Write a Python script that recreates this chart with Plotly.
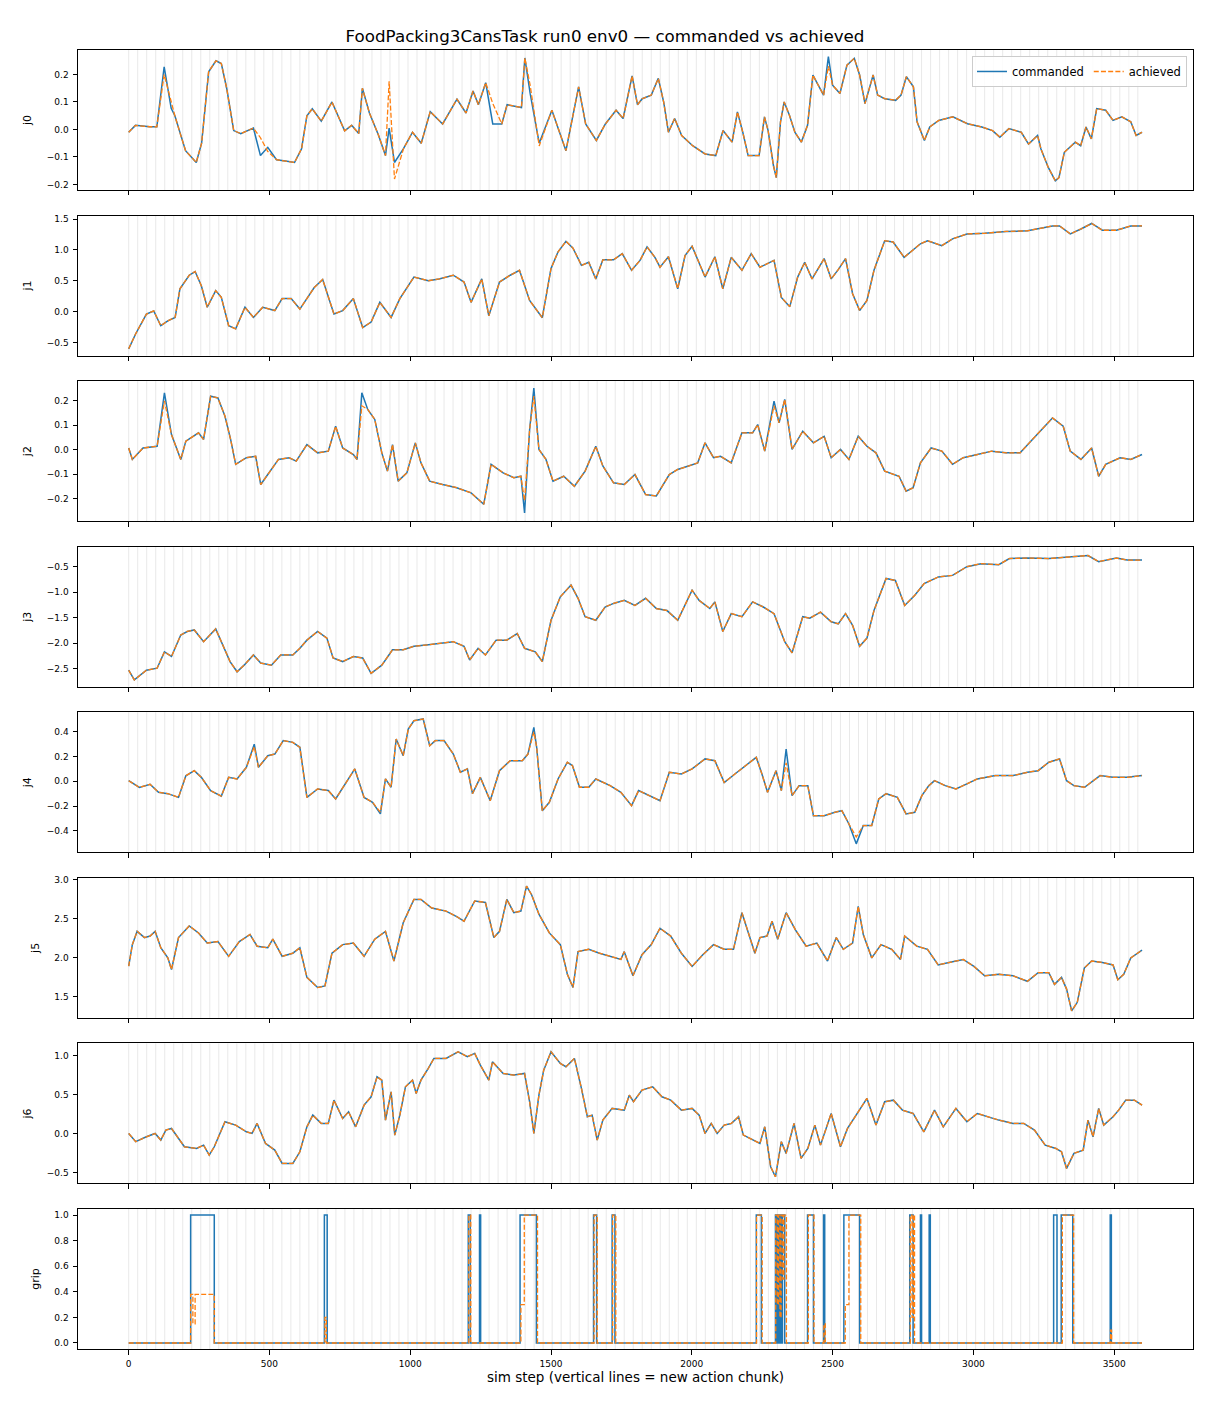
import plotly.graph_objects as go
from plotly.subplots import make_subplots

# ---- data (sim step, joint value) ----
j0_steps = [0, 24, 75, 100, 126, 151, 164, 183, 202, 240, 259, 284, 310, 329, 348, 373, 398, 443, 468, 494,
            525, 557, 589, 614, 633, 652, 684, 722, 767, 792, 817, 830, 855, 887, 912, 925, 944, 976, 1008, 1039,
            1071, 1115, 1166, 1198, 1223, 1242, 1268, 1293, 1325, 1344, 1395, 1407, 1426, 1458, 1503, 1553, 1598, 1623, 1661, 1693,
            1731, 1756, 1788, 1807, 1824, 1856, 1881, 1900, 1917, 1939, 1964, 2003, 2047, 2085, 2111, 2143, 2162, 2181, 2200, 2239,
            2258, 2271, 2290, 2300, 2315, 2328, 2347, 2366, 2389, 2411, 2430, 2449, 2468, 2485, 2500, 2526, 2551, 2577, 2596, 2615,
            2644, 2660, 2685, 2724, 2743, 2762, 2787, 2800, 2826, 2845, 2877, 2927, 2979, 3030, 3068, 3094, 3126, 3170, 3196, 3228,
            3240, 3266, 3291, 3304, 3323, 3362, 3381, 3400, 3419, 3438, 3470, 3496, 3527, 3559, 3578, 3599]
j0_cmd = [-0.01, 0.015, 0.01, 0.01, 0.228, 0.077, 0.05, -0.015, -0.077, -0.12,
          -0.05, 0.21, 0.25, 0.24, 0.15, -0.004, -0.015, 0.005, -0.095, -0.065,
          -0.11, -0.115, -0.12, -0.07, 0.05, 0.075, 0.03, 0.1, -0.005, 0.015,
          -0.015, 0.15, 0.06, -0.02, -0.095, 0.005, -0.12, -0.07, -0.01, -0.05,
          0.065, 0.02, 0.11, 0.06, 0.14, 0.09, 0.17, 0.02, 0.02, 0.09,
          0.08, 0.26, 0.13, -0.05, 0.07, -0.077, 0.155, 0.02, -0.04, 0.02,
          0.07, 0.04, 0.195, 0.09, 0.112, 0.125, 0.186, 0.10, -0.01, 0.04,
          -0.022, -0.059, -0.089, -0.095, -0.004, -0.046, 0.064, -0.01, -0.095, -0.095,
          0.046, -0.004, -0.132, -0.175, 0.028, 0.10, 0.051, -0.01, -0.046, 0.015,
          0.198, 0.161, 0.125, 0.265, 0.161, 0.131, 0.234, 0.259, 0.198, 0.094,
          0.198, 0.125, 0.112, 0.106, 0.125, 0.192, 0.155, 0.028, -0.04, 0.009,
          0.033, 0.046, 0.021, 0.009, -0.004, -0.028, 0.003, -0.01, -0.053, -0.022,
          -0.071, -0.138, -0.187, -0.175, -0.083, -0.046, -0.059, 0.009, -0.034, 0.076,
          0.07, 0.033, 0.046, 0.028, -0.022, -0.01]
j0_ach = [-0.01, 0.015, 0.01, 0.01, 0.2, 0.1, 0.05, -0.015, -0.077, -0.12,
          -0.05, 0.21, 0.25, 0.24, 0.15, -0.004, -0.015, 0.005, -0.03, -0.08,
          -0.11, -0.115, -0.12, -0.07, 0.05, 0.075, 0.03, 0.1, -0.005, 0.015,
          -0.015, 0.15, 0.06, -0.02, -0.095, 0.175, -0.18, -0.07, -0.01, -0.05,
          0.065, 0.02, 0.11, 0.06, 0.14, 0.09, 0.17, 0.095, 0.02, 0.09,
          0.08, 0.26, 0.16, -0.06, 0.07, -0.077, 0.155, 0.02, -0.04, 0.02,
          0.07, 0.04, 0.195, 0.09, 0.112, 0.125, 0.186, 0.10, -0.01, 0.04,
          -0.022, -0.059, -0.089, -0.095, -0.004, -0.046, 0.064, -0.01, -0.095, -0.095,
          0.046, -0.004, -0.132, -0.175, 0.028, 0.10, 0.051, -0.01, -0.046, 0.015,
          0.198, 0.161, 0.125, 0.23, 0.161, 0.131, 0.234, 0.259, 0.198, 0.094,
          0.198, 0.125, 0.112, 0.106, 0.125, 0.192, 0.155, 0.028, -0.04, 0.009,
          0.033, 0.046, 0.021, 0.009, -0.004, -0.028, 0.003, -0.01, -0.053, -0.022,
          -0.071, -0.138, -0.187, -0.175, -0.083, -0.046, -0.059, 0.009, -0.034, 0.076,
          0.07, 0.033, 0.046, 0.028, -0.022, -0.01]

j1_steps = [0, 25, 63, 89, 114, 139, 165, 182, 215, 236, 258, 279, 309, 329, 355, 380, 413, 443, 476, 519,
            545, 577, 608, 659, 689, 729, 760, 798, 831, 861, 892, 932, 963, 993, 1013, 1064, 1102, 1153, 1191, 1216,
            1254, 1279, 1317, 1355, 1388, 1424, 1469, 1500, 1525, 1553, 1578, 1608, 1634, 1659, 1684, 1722, 1753, 1786, 1816, 1841,
            1869, 1887, 1917, 1950, 1976, 2001, 2047, 2082, 2110, 2140, 2178, 2211, 2242, 2292, 2318, 2348, 2376, 2401, 2427, 2470,
            2495, 2520, 2546, 2571, 2596, 2622, 2647, 2685, 2715, 2754, 2781, 2812, 2837, 2888, 2926, 2977, 3040, 3116, 3192, 3281,
            3306, 3344, 3382, 3420, 3458, 3508, 3559, 3599]
j1_cmd = [-0.605, -0.36, -0.04, 0.01, -0.23, -0.15, -0.095, 0.37, 0.59, 0.65,
          0.42, 0.07, 0.34, 0.23, -0.23, -0.28, 0.07, -0.095, 0.07, 0.016,
          0.21, 0.21, 0.04, 0.39, 0.52, -0.04, 0.016, 0.21, -0.26, -0.17,
          0.15, -0.095, 0.21, 0.42, 0.56, 0.50, 0.53, 0.59, 0.48, 0.15,
          0.53, -0.07, 0.48, 0.59, 0.67, 0.18, -0.10, 0.70, 0.97, 1.14,
          1.03, 0.75, 0.80, 0.53, 0.84, 0.84, 0.94, 0.67, 0.83, 1.05,
          0.88, 0.72, 0.89, 0.37, 0.91, 1.06, 0.56, 0.89, 0.37, 0.88,
          0.67, 0.94, 0.72, 0.83, 0.23, 0.08, 0.56, 0.80, 0.53, 0.86,
          0.53, 0.68, 0.86, 0.29, 0.016, 0.18, 0.67, 1.15, 1.13, 0.88,
          0.99, 1.10, 1.15, 1.07, 1.18, 1.26, 1.27, 1.30, 1.31, 1.39,
          1.39, 1.26, 1.34, 1.43, 1.32, 1.32, 1.39, 1.39]
j1_ach = j1_cmd  # achieved overlays commanded within reading precision

j2_steps = [0, 13, 51, 101, 127, 152, 185, 203, 248, 266, 291, 317, 342, 362, 380, 418, 451, 469, 494, 532,
            570, 595, 633, 671, 709, 735, 760, 798, 811, 828, 849, 874, 899, 919, 937, 957, 988, 1018, 1038, 1069,
            1115, 1165, 1216, 1261, 1287, 1330, 1368, 1393, 1406, 1424, 1439, 1457, 1482, 1507, 1545, 1583, 1621, 1659, 1684, 1722,
            1760, 1798, 1836, 1874, 1920, 1950, 1988, 2021, 2047, 2077, 2102, 2140, 2178, 2216, 2234, 2259, 2292, 2310, 2330, 2356,
            2394, 2432, 2470, 2495, 2528, 2558, 2591, 2622, 2654, 2685, 2736, 2761, 2786, 2812, 2850, 2888, 2926, 2964, 3014, 3065,
            3116, 3166, 3204, 3242, 3281, 3319, 3344, 3382, 3420, 3445, 3470, 3521, 3559, 3599]
j2_cmd = [0.007, -0.04, 0.007, 0.014, 0.233, 0.062, -0.04, 0.035, 0.069, 0.042,
          0.219, 0.212, 0.137, 0.042, -0.06, -0.033, -0.027, -0.143, -0.102, -0.04,
          -0.033, -0.047, 0.021, -0.013, -0.006, 0.096, 0.007, -0.02, -0.04, 0.233,
          0.165, 0.124, -0.013, -0.088, 0.021, -0.129, -0.095, 0.028, -0.054, -0.129,
          -0.143, -0.156, -0.177, -0.224, -0.06, -0.095, -0.115, -0.109, -0.259, 0.083,
          0.253, 0.001, -0.04, -0.129, -0.109, -0.15, -0.088, 0.014, -0.067, -0.136,
          -0.143, -0.102, -0.184, -0.19, -0.102, -0.081, -0.067, -0.054, 0.028, -0.033,
          -0.027, -0.054, 0.069, 0.069, 0.103, -0.006, 0.199, 0.110, 0.206, 0.001,
          0.076, 0.028, 0.055, -0.033, 0.001, -0.04, 0.055, 0.014, -0.013, -0.088,
          -0.109, -0.170, -0.156, -0.054, 0.007, -0.006, -0.06, -0.033, -0.02, -0.006,
          -0.013, -0.013, 0.035, 0.083, 0.130, 0.096, -0.006, -0.04, 0.007, -0.109,
          -0.06, -0.033, -0.04, -0.02]
j2_ach = [0.007, -0.04, 0.007, 0.014, 0.2, 0.062, -0.04, 0.035, 0.069, 0.042,
          0.219, 0.212, 0.137, 0.042, -0.06, -0.033, -0.027, -0.143, -0.102, -0.04,
          -0.033, -0.047, 0.021, -0.013, -0.006, 0.096, 0.007, -0.02, -0.04, 0.18,
          0.165, 0.124, -0.013, -0.088, 0.021, -0.129, -0.095, 0.028, -0.054, -0.129,
          -0.143, -0.156, -0.177, -0.224, -0.06, -0.095, -0.115, -0.109, -0.21, 0.083,
          0.22, 0.001, -0.04, -0.129, -0.109, -0.15, -0.088, 0.014, -0.067, -0.136,
          -0.143, -0.102, -0.184, -0.19, -0.102, -0.081, -0.067, -0.054, 0.028, -0.033,
          -0.027, -0.054, 0.069, 0.069, 0.103, -0.006, 0.18, 0.110, 0.206, 0.001,
          0.076, 0.028, 0.055, -0.033, 0.001, -0.04, 0.055, 0.014, -0.013, -0.088,
          -0.109, -0.170, -0.156, -0.054, 0.007, -0.006, -0.06, -0.033, -0.02, -0.006,
          -0.013, -0.013, 0.035, 0.083, 0.130, 0.096, -0.006, -0.04, 0.007, -0.109,
          -0.06, -0.033, -0.04, -0.02]

j3_steps = [0, 20, 63, 101, 127, 152, 185, 208, 233, 266, 309, 329, 360, 385, 410, 443, 469, 507, 540, 583,
            608, 633, 671, 704, 726, 760, 798, 831, 861, 899, 937, 975, 1013, 1064, 1115, 1153, 1191, 1211, 1241, 1267,
            1305, 1343, 1380, 1406, 1444, 1469, 1500, 1533, 1571, 1596, 1621, 1659, 1692, 1722, 1760, 1798, 1836, 1874, 1912, 1950,
            2001, 2026, 2064, 2082, 2110, 2140, 2178, 2216, 2254, 2292, 2330, 2356, 2394, 2419, 2457, 2495, 2520, 2546, 2571, 2596,
            2622, 2647, 2690, 2723, 2756, 2792, 2825, 2876, 2926, 2977, 3027, 3090, 3128, 3192, 3268, 3331, 3407, 3445, 3508, 3546,
            3599]
j3_cmd = [-2.53, -2.72, -2.53, -2.49, -2.17, -2.26, -1.84, -1.77, -1.74, -1.97,
          -1.72, -1.97, -2.36, -2.56, -2.43, -2.23, -2.39, -2.43, -2.23, -2.23,
          -2.10, -1.94, -1.77, -1.90, -2.29, -2.36, -2.26, -2.29, -2.59, -2.43,
          -2.13, -2.13, -2.06, -2.03, -2.00, -1.97, -2.06, -2.33, -2.10, -2.23,
          -1.94, -1.94, -1.81, -2.10, -2.17, -2.36, -1.55, -1.09, -0.86, -1.12,
          -1.48, -1.55, -1.29, -1.22, -1.16, -1.26, -1.12, -1.32, -1.36, -1.55,
          -0.96, -1.16, -1.32, -1.19, -1.77, -1.42, -1.48, -1.19, -1.29, -1.42,
          -1.97, -2.19, -1.48, -1.51, -1.39, -1.58, -1.62, -1.42, -1.65, -2.06,
          -1.90, -1.36, -0.73, -0.77, -1.26, -1.06, -0.83, -0.70, -0.67, -0.50,
          -0.44, -0.46, -0.34, -0.33, -0.34, -0.31, -0.28, -0.40, -0.33, -0.37,
          -0.37]
j3_ach = j3_cmd

j4_steps = [0, 38, 76, 106, 139, 177, 203, 233, 258, 291, 329, 355, 385, 418, 446, 461, 494, 519, 549, 583,
            608, 633, 671, 709, 735, 773, 803, 836, 866, 894, 912, 932, 950, 975, 993, 1013, 1046, 1069, 1089, 1120,
            1153, 1178, 1203, 1221, 1249, 1284, 1317, 1355, 1398, 1418, 1439, 1449, 1469, 1494, 1525, 1558, 1576, 1601, 1634, 1659,
            1710, 1748, 1786, 1811, 1849, 1887, 1920, 1963, 2001, 2047, 2082, 2115, 2153, 2191, 2229, 2249, 2269, 2299, 2318, 2335,
            2356, 2381, 2412, 2432, 2470, 2508, 2533, 2558, 2584, 2609, 2639, 2664, 2690, 2730, 2761, 2792, 2817, 2842, 2862, 2900,
            2938, 2977, 3014, 3078, 3141, 3192, 3230, 3268, 3306, 3331, 3357, 3395, 3420, 3450, 3496, 3546, 3599]
j4_cmd = [0.005, -0.05, -0.024, -0.089, -0.10, -0.13, 0.045, 0.086, 0.032, -0.075,
          -0.12, 0.032, 0.019, 0.113, 0.30, 0.113, 0.207, 0.22, 0.329, 0.315,
          0.275, -0.13, -0.062, -0.075, -0.143, -0.01, 0.10, -0.13, -0.17, -0.264,
          0.019, -0.048, 0.342, 0.207, 0.423, 0.49, 0.504, 0.288, 0.329, 0.329,
          0.22, 0.073, 0.10, -0.10, 0.032, -0.157, 0.086, 0.167, 0.167, 0.22,
          0.436, 0.275, -0.238, -0.17, 0.019, 0.154, 0.127, -0.048, -0.048, 0.019,
          -0.035, -0.089, -0.197, -0.075, -0.116, -0.157, 0.073, 0.059, 0.10, 0.181,
          0.167, -0.01, 0.059, 0.127, 0.194, 0.059, -0.089, 0.086, -0.075, 0.261,
          -0.116, -0.035, -0.035, -0.278, -0.278, -0.251, -0.238, -0.345, -0.506, -0.358,
          -0.358, -0.143, -0.10, -0.13, -0.264, -0.251, -0.116, -0.035, 0.005, -0.035,
          -0.062, -0.021, 0.019, 0.046, 0.046, 0.073, 0.086, 0.154, 0.181, 0.005,
          -0.035, -0.048, -0.008, 0.046, 0.032, 0.032, 0.046]
j4_ach = [0.005, -0.05, -0.024, -0.089, -0.10, -0.13, 0.045, 0.086, 0.032, -0.075,
          -0.12, 0.032, 0.019, 0.113, 0.28, 0.113, 0.207, 0.22, 0.329, 0.315,
          0.275, -0.13, -0.062, -0.075, -0.143, -0.01, 0.10, -0.13, -0.17, -0.25,
          0.019, -0.048, 0.342, 0.207, 0.423, 0.49, 0.504, 0.288, 0.329, 0.329,
          0.22, 0.073, 0.10, -0.10, 0.032, -0.157, 0.086, 0.167, 0.167, 0.22,
          0.40, 0.275, -0.238, -0.17, 0.019, 0.154, 0.127, -0.048, -0.048, 0.019,
          -0.035, -0.089, -0.197, -0.075, -0.116, -0.157, 0.073, 0.059, 0.10, 0.181,
          0.167, -0.01, 0.059, 0.127, 0.194, 0.059, -0.089, 0.086, -0.075, 0.15,
          -0.116, -0.035, -0.035, -0.278, -0.278, -0.251, -0.238, -0.345, -0.45, -0.358,
          -0.358, -0.143, -0.10, -0.13, -0.264, -0.251, -0.116, -0.035, 0.005, -0.035,
          -0.062, -0.021, 0.019, 0.046, 0.046, 0.073, 0.086, 0.154, 0.181, 0.005,
          -0.035, -0.048, -0.008, 0.046, 0.032, 0.032, 0.046]

j5_steps = [0, 13, 30, 56, 76, 94, 114, 139, 152, 177, 215, 248, 279, 317, 355, 393, 431, 456, 494, 512,
            545, 583, 608, 633, 671, 697, 722, 760, 798, 836, 874, 912, 942, 975, 1013, 1038, 1076, 1127, 1165, 1191,
            1229, 1267, 1297, 1317, 1343, 1368, 1393, 1413, 1431, 1457, 1494, 1533, 1558, 1578, 1596, 1634, 1672, 1710, 1748, 1760,
            1791, 1823, 1856, 1887, 1925, 1963, 2001, 2039, 2077, 2115, 2148, 2178, 2204, 2224, 2242, 2267, 2285, 2305, 2335, 2368,
            2406, 2444, 2482, 2513, 2538, 2571, 2591, 2609, 2639, 2672, 2710, 2741, 2756, 2799, 2837, 2875, 2913, 2964, 3002, 3040,
            3090, 3141, 3192, 3230, 3268, 3288, 3313, 3331, 3349, 3369, 3394, 3420, 3458, 3496, 3513, 3534, 3559, 3599]
j5_cmd = [1.893, 2.17, 2.34, 2.26, 2.28, 2.34, 2.13, 2.00, 1.85, 2.26,
          2.41, 2.32, 2.19, 2.21, 2.02, 2.21, 2.30, 2.15, 2.13, 2.24,
          2.02, 2.06, 2.13, 1.75, 1.62, 1.64, 2.06, 2.17, 2.19, 2.02,
          2.24, 2.34, 1.96, 2.45, 2.75, 2.75, 2.64, 2.60, 2.53, 2.47,
          2.73, 2.71, 2.26, 2.34, 2.75, 2.58, 2.60, 2.92, 2.81, 2.56,
          2.32, 2.17, 1.79, 1.62, 2.08, 2.11, 2.06, 2.02, 1.98, 2.08,
          1.77, 2.04, 2.17, 2.38, 2.28, 2.06, 1.89, 2.04, 2.17, 2.11,
          2.11, 2.58, 2.30, 2.06, 2.26, 2.28, 2.47, 2.24, 2.58, 2.36,
          2.15, 2.19, 1.96, 2.26, 2.11, 2.19, 2.66, 2.30, 2.00, 2.17,
          2.11, 1.98, 2.28, 2.15, 2.11, 1.91, 1.94, 1.98, 1.89, 1.77,
          1.79, 1.77, 1.70, 1.81, 1.81, 1.66, 1.75, 1.60, 1.32, 1.43,
          1.87, 1.96, 1.94, 1.91, 1.72, 1.79, 2.00, 2.10]
j5_ach = j5_cmd

j6_steps = [0, 25, 63, 94, 114, 132, 152, 198, 241, 266, 286, 304, 342, 380, 418, 438, 456, 486, 519, 545,
            583, 608, 633, 654, 684, 709, 729, 760, 781, 806, 836, 861, 882, 899, 912, 932, 945, 963, 983, 1008,
            1021, 1038, 1064, 1084, 1127, 1170, 1203, 1229, 1249, 1279, 1292, 1330, 1368, 1406, 1424, 1439, 1457, 1474, 1500, 1533,
            1553, 1583, 1608, 1629, 1646, 1664, 1684, 1717, 1760, 1778, 1793, 1823, 1861, 1894, 1925, 1963, 2001, 2026, 2047, 2069,
            2090, 2115, 2140, 2166, 2183, 2216, 2242, 2259, 2280, 2297, 2318, 2335, 2363, 2388, 2412, 2437, 2457, 2495, 2528, 2553,
            2584, 2622, 2654, 2685, 2716, 2748, 2786, 2824, 2862, 2893, 2938, 2977, 3014, 3053, 3090, 3141, 3179, 3217, 3255, 3293,
            3313, 3331, 3357, 3390, 3407, 3425, 3445, 3463, 3496, 3516, 3541, 3572, 3599]
j6_cmd = [0.0, -0.106, -0.043, 0.0, -0.085, 0.043, 0.064, -0.171, -0.192, -0.15,
          -0.278, -0.171, 0.15, 0.107, 0.021, 0.0, 0.128, -0.128, -0.214, -0.385,
          -0.385, -0.235, 0.085, 0.235, 0.128, 0.128, 0.427, 0.192, 0.278, 0.085,
          0.363, 0.47, 0.726, 0.683, 0.171, 0.534, -0.021, 0.235, 0.598, 0.683,
          0.513, 0.683, 0.833, 0.962, 0.962, 1.047, 0.983, 1.026, 0.876, 0.683,
          0.919, 0.769, 0.748, 0.769, 0.406, 0.0, 0.491, 0.812, 1.047, 0.897,
          0.855, 0.962, 0.577, 0.214, 0.235, -0.085, 0.171, 0.321, 0.299, 0.491,
          0.406, 0.556, 0.598, 0.47, 0.427, 0.299, 0.321, 0.235, 0.0, 0.128,
          0.0, 0.107, 0.128, 0.214, -0.021, -0.085, -0.128, 0.085, -0.427, -0.556,
          -0.106, -0.256, 0.128, -0.32, -0.192, 0.107, -0.15, 0.256, -0.171, 0.064,
          0.235, 0.449, 0.107, 0.406, 0.427, 0.299, 0.256, 0.021, 0.299, 0.085,
          0.321, 0.15, 0.256, 0.214, 0.171, 0.128, 0.128, 0.043, -0.15, -0.192,
          -0.235, -0.449, -0.256, -0.214, 0.171, -0.043, 0.321, 0.107, 0.214, 0.299,
          0.427, 0.427, 0.363]
j6_ach = j6_cmd

# gripper: breakpoints of a step signal
grip_cmd_steps = [0, 220, 304, 695, 705, 1206, 1213, 1246, 1250, 1390, 1448, 1651, 1662, 1717, 1727,
                  2229, 2247, 2297, 2302, 2306, 2310, 2314, 2318, 2322, 2330, 2411, 2432, 2468, 2472,
                  2540, 2596, 2774, 2786, 2812, 2816, 2843, 2847, 3285, 3297, 3312, 3353, 3486, 3490, 3599]
grip_cmd = [0, 1, 0, 1, 0, 1, 0, 1, 0, 1, 0, 1, 0, 1, 0,
            1, 0, 1, 0, 1, 0, 1, 0, 1, 0, 1, 0, 1, 0,
            1, 0, 1, 0, 1, 0, 1, 0, 1, 0, 1, 0, 1, 0, 0]
grip_ach_steps = [0, 220, 228, 236, 304, 697, 702, 1208, 1215, 1393, 1405, 1452, 1653, 1664, 1719, 1730,
                  2230, 2250, 2298, 2304, 2308, 2313, 2317, 2323, 2327, 2336, 2414, 2434, 2469, 2474,
                  2545, 2558, 2600, 2776, 2782, 2787, 2791, 3316, 3356, 3487, 3491, 3599]
grip_ach = [0, 0.38, 0.15, 0.38, 0, 0.2, 0, 1, 0, 0.3, 1, 0, 1, 0, 1, 0,
            1, 0, 1, 0.3, 1, 0.2, 1, 0.5, 1, 0, 1, 0, 0.15, 0,
            0.3, 1, 0, 1, 0.2, 1, 0, 1, 0, 0.1, 0, 0]

# starts of new action chunks (vertical lines)
chunk_starts = [0, 32, 64, 96, 128, 160, 192, 224, 256, 288, 320, 352, 384, 416, 448, 480, 512, 544, 576, 608,
                640, 672, 704, 736, 768, 800, 832, 864, 896, 928, 960, 992, 1024, 1056, 1088, 1120, 1152, 1184,
                1216, 1248, 1280, 1312, 1344, 1376, 1408, 1440, 1472, 1504, 1536, 1568, 1600, 1632, 1664, 1696,
                1728, 1760, 1792, 1824, 1856, 1888, 1920, 1952, 1984, 2016, 2048, 2080, 2112, 2144, 2176, 2208,
                2240, 2272, 2304, 2336, 2368, 2400, 2432, 2464, 2496, 2528, 2560, 2592, 2624, 2656, 2688, 2720,
                2752, 2784, 2816, 2848, 2880, 2912, 2944, 2976, 3008, 3040, 3072, 3104, 3136, 3168, 3200, 3232,
                3264, 3296, 3328, 3360, 3392, 3424, 3456, 3488, 3520, 3552, 3584]

BLUE = "#1f77b4"
ORANGE = "#ff7f0e"
FONT = "DejaVu Sans"

# label, cmd x, cmd y, ach x, ach y, line shape, tick step, y range
panels = [
    ("j0", j0_steps, j0_cmd, j0_steps, j0_ach, "linear", 0.1, [-0.22, 0.289]),
    ("j1", j1_steps, j1_cmd, j1_steps, j1_ach, "linear", 0.5, [-0.714, 1.558]),
    ("j2", j2_steps, j2_cmd, j2_steps, j2_ach, "linear", 0.1, [-0.293, 0.281]),
    ("j3", j3_steps, j3_cmd, j3_steps, j3_ach, "linear", 0.5, [-2.853, -0.108]),
    ("j4", j4_steps, j4_cmd, j4_steps, j4_ach, "linear", 0.2, [-0.574, 0.558]),
    ("j5", j5_steps, j5_cmd, j5_steps, j5_ach, "linear", 0.5, [1.231, 3.026]),
    ("j6", j6_steps, j6_cmd, j6_steps, j6_ach, "linear", 0.5, [-0.641, 1.154]),
    ("grip", grip_cmd_steps, grip_cmd, grip_ach_steps, grip_ach, "hv", 0.2, [-0.047, 1.047]),
]

fig = make_subplots(rows=len(panels), cols=1, shared_xaxes=True, vertical_spacing=0.0197)

shapes = []
for i, (label, cx, cy, ax, ay, shape, dtick, yrange) in enumerate(panels, start=1):
    fig.add_trace(go.Scatter(
        x=cx, y=cy, mode="lines", name="commanded",
        line=dict(color=BLUE, width=1.5, shape=shape),
        showlegend=(i == 1), legendgroup="cmd",
    ), row=i, col=1)
    fig.add_trace(go.Scatter(
        x=ax, y=ay, mode="lines", name="achieved",
        line=dict(color=ORANGE, width=1.3, dash="5px,2.2px", shape=shape),
        showlegend=(i == 1), legendgroup="ach",
    ), row=i, col=1)

    suffix = "" if i == 1 else str(i)
    for c in chunk_starts:
        shapes.append(dict(
            type="line", xref="x" + suffix, yref="y" + suffix + " domain",
            x0=c, x1=c, y0=0, y1=1, layer="below",
            line=dict(color="rgba(128,128,128,0.22)", width=0.8),
        ))

    fig.update_yaxes(
        row=i, col=1, title_text=label, title_font=dict(size=11, color="black"),
        title_standoff=12, range=yrange, dtick=dtick, tickformat=".1f",
    )

fig.update_xaxes(range=[-180, 3780], dtick=500, tickformat="d")

axis_style = dict(
    showline=True, mirror=True, linecolor="black", linewidth=1,
    ticks="outside", ticklen=4.5, tickwidth=0.8, tickcolor="black",
    showgrid=False, zeroline=False, tickfont=dict(size=9, color="black"),
    ticklabelstandoff=2,
)
fig.update_xaxes(**axis_style)
fig.update_yaxes(**axis_style)
fig.update_xaxes(
    row=len(panels), col=1,
    title_text="sim step (vertical lines = new action chunk)",
    title_font=dict(size=13.5, color="black"), title_standoff=4,
)

# the page places the figure 8 px from the top-left corner, so margins are offset
fig.update_layout(
    width=1210, height=1408,
    margin=dict(l=70, r=25, t=42, b=67),
    paper_bgcolor="white", plot_bgcolor="white",
    font=dict(family=FONT, color="black"),
    title=dict(
        text="FoodPacking3CansTask run0 env0 — commanded vs achieved",
        x=(605 - 8) / 1210, xanchor="center", y=1 - 28 / 1408, yanchor="middle", yref="container",
        font=dict(size=16.7, color="black"),
    ),
    legend=dict(
        orientation="h", x=0.9946, xanchor="right", y=0.9954, yanchor="top",
        bgcolor="rgba(255,255,255,0.85)", bordercolor="#cccccc", borderwidth=1,
        font=dict(size=11.5), itemwidth=30,
    ),
    shapes=shapes,
    showlegend=True,
)

fig.write_html("out.html")
